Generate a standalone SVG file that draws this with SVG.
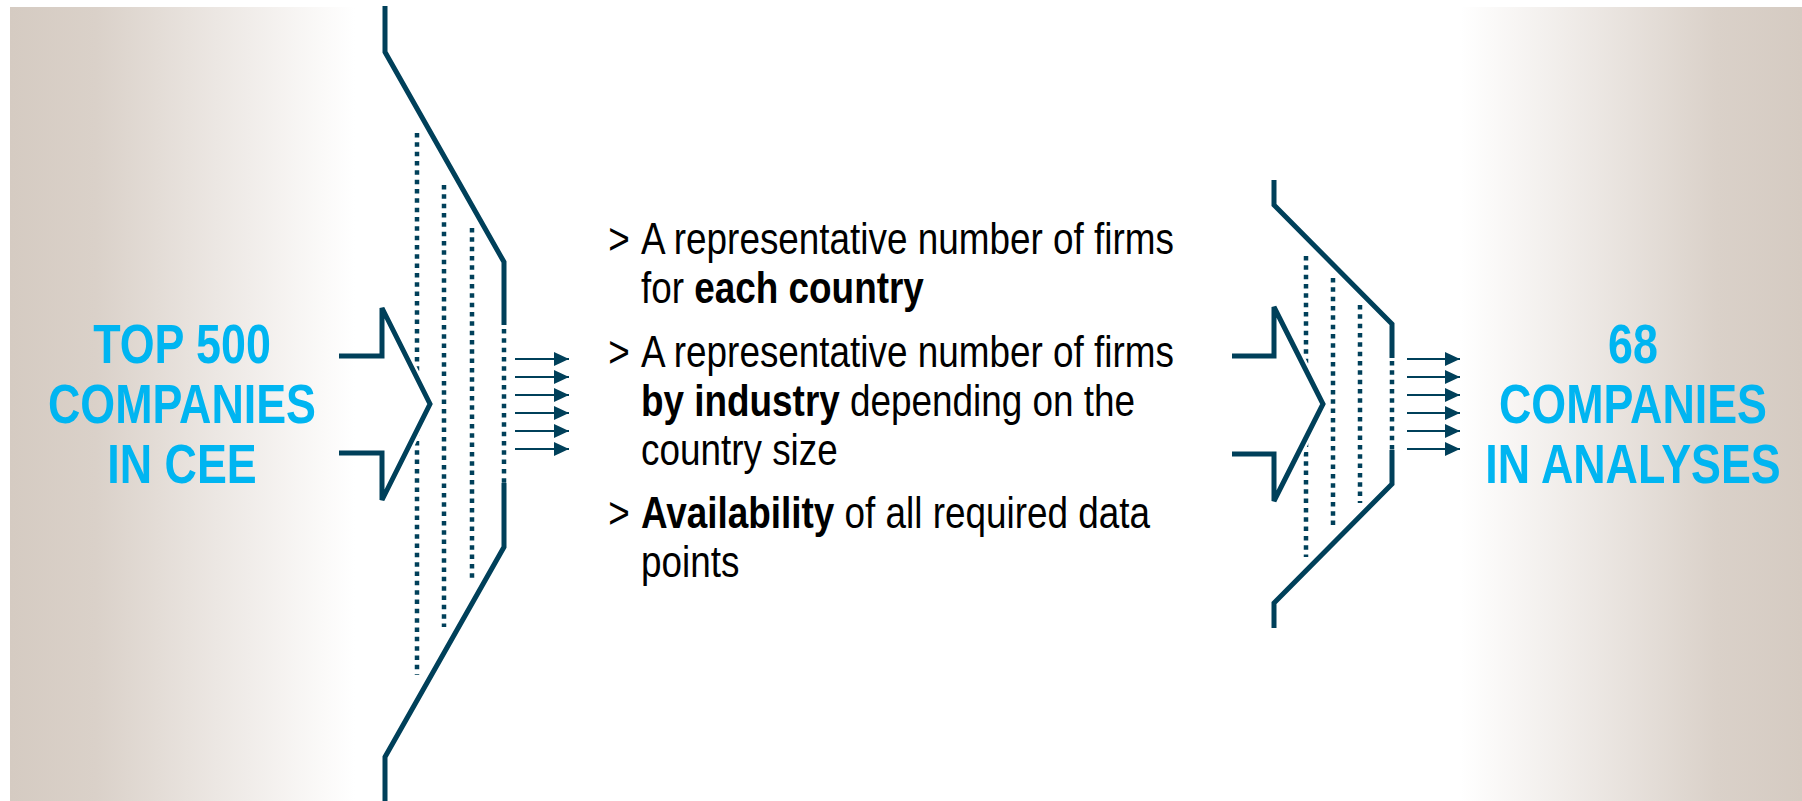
<svg xmlns="http://www.w3.org/2000/svg" width="1802" height="801" viewBox="0 0 1802 801">
  <defs>
    <linearGradient id="fadeRight" x1="0" y1="0" x2="1" y2="0">
      <stop offset="0" stop-color="#d5cbc2"/>
      <stop offset="0.25" stop-color="#dad1c9"/>
      <stop offset="0.6" stop-color="#ece7e3"/>
      <stop offset="1" stop-color="#ffffff"/>
    </linearGradient>
    <linearGradient id="fadeLeft" x1="1" y1="0" x2="0" y2="0">
      <stop offset="0" stop-color="#d5cbc2"/>
      <stop offset="0.25" stop-color="#dad1c9"/>
      <stop offset="0.6" stop-color="#ece7e3"/>
      <stop offset="1" stop-color="#ffffff"/>
    </linearGradient>
    <marker id="head" viewBox="0 0 15 14" markerWidth="15" markerHeight="14" markerUnits="userSpaceOnUse" refX="15" refY="7" orient="auto">
      <path d="M0,0 L15,7 L0,14 z" fill="#00405a"/>
    </marker>
    <style>
      .wall { fill: none; stroke: #00405a; stroke-width: 5; stroke-linejoin: miter; }
      .sieve { fill: none; stroke: #00405a; stroke-width: 4.5; stroke-dasharray: 4.5 4.83; }
      .mask { fill: #ffffff; stroke: #ffffff; stroke-width: 12; stroke-linejoin: round; }
      .flow { stroke: #00405a; stroke-width: 2; marker-end: url(#head); }
      .big { font-family: "Liberation Sans", Arial, sans-serif; font-weight: bold; font-size: 56px; fill: #00b5f1; text-anchor: middle; }
      .body { font-family: "Liberation Sans", Arial, sans-serif; font-size: 45px; fill: #000000; }
      .b { font-weight: bold; }
    </style>
  </defs>

  <!-- side panels -->
  <rect id="panel-left" x="10" y="7" width="345" height="794" fill="url(#fadeRight)"/>
  <rect id="panel-right" x="1460" y="7" width="342" height="794" fill="url(#fadeLeft)"/>

  <!-- source label -->
  <g id="label-source" transform="translate(182,0) scale(0.8,1)">
    <text class="big" x="0" y="363">TOP 500</text>
    <text class="big" x="0" y="423">COMPANIES</text>
    <text class="big" x="0" y="483">IN CEE</text>
  </g>

  <!-- result label -->
  <g id="label-result" transform="translate(1633,0) scale(0.8,1)">
    <text class="big" x="0" y="363">68</text>
    <text class="big" x="0" y="423">COMPANIES</text>
    <text class="big" x="0" y="483">IN ANALYSES</text>
  </g>

  <!-- first filter stage -->
  <g id="funnel-1">
    <path class="wall" d="M385,6 V52 L504,262 V325"/>
    <path class="wall" d="M504,483 V547 L385,757 V801"/>
    <line class="sieve" x1="504" y1="329" x2="504" y2="483"/>
    <line class="sieve" x1="417" y1="133" x2="417" y2="675"/>
    <line class="sieve" x1="444" y1="185" x2="444" y2="627"/>
    <line class="sieve" x1="472" y1="228" x2="472" y2="580"/>
    <polygon class="mask" points="384,312 428,404 384,496"/>
    <path class="wall" d="M339,356 H382 V308 L430,404 L382,500 V453 H339"/>
  </g>

  <!-- second filter stage -->
  <g id="funnel-2">
    <path class="wall" d="M1274,180 V205 L1392,324 V358"/>
    <path class="wall" d="M1392,450 V484 L1274,603 V628"/>
    <line class="sieve" x1="1392" y1="361" x2="1392" y2="450"/>
    <line class="sieve" x1="1306" y1="256" x2="1306" y2="557"/>
    <line class="sieve" x1="1333" y1="278" x2="1333" y2="529"/>
    <line class="sieve" x1="1360" y1="305" x2="1360" y2="503"/>
    <polygon class="mask" points="1276,311 1321,404 1276,497"/>
    <path class="wall" d="M1232,356 H1274 V307 L1323,404 L1274,501 V454 H1232"/>
  </g>

  <!-- outflow arrows -->
  <g id="connectors">
    <line class="flow" x1="515" y1="359" x2="569" y2="359"/>
    <line class="flow" x1="515" y1="377" x2="569" y2="377"/>
    <line class="flow" x1="515" y1="395" x2="569" y2="395"/>
    <line class="flow" x1="515" y1="413" x2="569" y2="413"/>
    <line class="flow" x1="515" y1="431" x2="569" y2="431"/>
    <line class="flow" x1="515" y1="449" x2="569" y2="449"/>
    <line class="flow" x1="1407" y1="359" x2="1460" y2="359"/>
    <line class="flow" x1="1407" y1="377" x2="1460" y2="377"/>
    <line class="flow" x1="1407" y1="395" x2="1460" y2="395"/>
    <line class="flow" x1="1407" y1="413" x2="1460" y2="413"/>
    <line class="flow" x1="1407" y1="431" x2="1460" y2="431"/>
    <line class="flow" x1="1407" y1="449" x2="1460" y2="449"/>
  </g>

  <!-- selection criteria -->
  <g id="criteria" transform="translate(641,0) scale(0.82,1)">
    <text class="body" x="-40" y="254">&gt;</text>
    <text class="body" x="0" y="254">A representative number of firms</text>
    <text class="body" x="0" y="303">for <tspan class="b">each country</tspan></text>
    <text class="body" x="-40" y="367">&gt;</text>
    <text class="body" x="0" y="367">A representative number of firms</text>
    <text class="body" x="0" y="416"><tspan class="b">by industry</tspan> depending on the</text>
    <text class="body" x="0" y="465">country size</text>
    <text class="body" x="-40" y="528">&gt;</text>
    <text class="body" x="0" y="528"><tspan class="b">Availability</tspan> of all required data</text>
    <text class="body" x="0" y="577">points</text>
  </g>
</svg>
